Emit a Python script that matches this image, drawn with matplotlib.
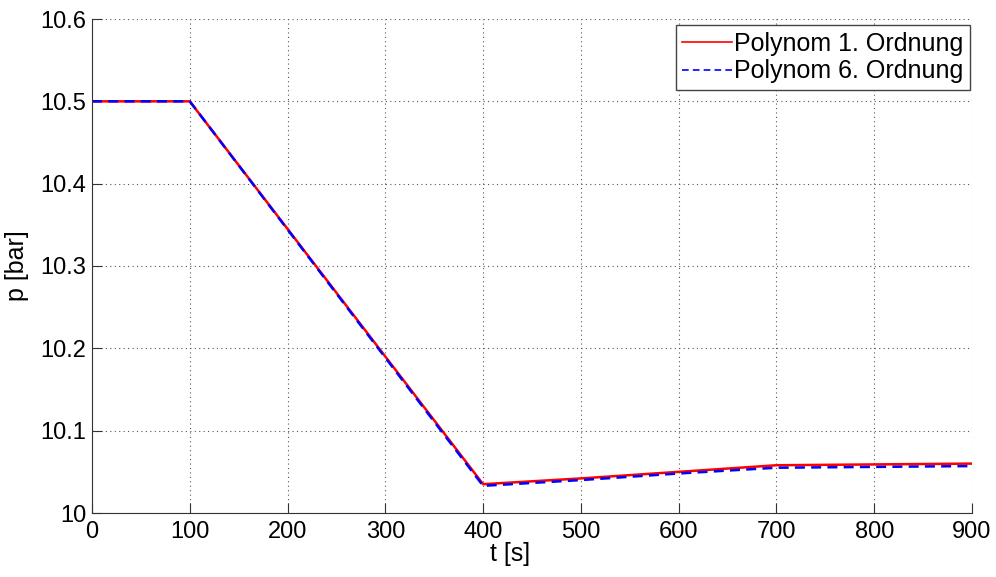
import numpy as np
import matplotlib.pyplot as plt

# Druckverlauf fuer beide Polynom-Ansaetze
t = [0, 100, 400, 500, 600, 700, 800, 900]
p_poly1 = [10.5, 10.5, 10.035, 10.042, 10.050, 10.058, 10.059, 10.060]
p_poly6 = [10.5, 10.5, 10.033, 10.040, 10.048, 10.055, 10.056, 10.057]

x_ticks = [0, 100, 200, 300, 400, 500, 600, 700, 800, 900]
y_ticks = [10, 10.1, 10.2, 10.3, 10.4, 10.5, 10.6]
y_ticklabels = ["10", "10.1", "10.2", "10.3", "10.4", "10.5", "10.6"]

plt.rcParams['font.family'] = ['Liberation Sans', 'DejaVu Sans']

fig = plt.figure(figsize=(9.96, 5.77), dpi=100)
ax = fig.add_axes([92 / 996, 1 - 513 / 577, 880 / 996, 494 / 577])

ax.plot(t, p_poly1, color='red', linewidth=1.8, label='Polynom 1. Ordnung')
ax.plot(t, p_poly6, color='blue', linewidth=1.8, linestyle=(0, (4, 2.5)),
        label='Polynom 6. Ordnung')

ax.set_xlim(0, 900)
ax.set_ylim(10, 10.6)
ax.set_xticks(x_ticks)
ax.set_yticks(y_ticks)
ax.set_yticklabels(y_ticklabels)

ax.grid(True, linestyle=(0, (1, 3)), color='#555555', linewidth=0.8)
ax.spines['top'].set_visible(False)
ax.spines['right'].set_visible(False)
ax.spines['left'].set_color('#333333')
ax.spines['bottom'].set_color('#333333')
ax.tick_params(direction='in', length=7, width=0.8, labelsize=17, colors='#333333',
               labelcolor='black')
ax.tick_params(axis='x', pad=6)
ax.tick_params(axis='y', pad=4)

ax.set_xlabel('t [s]', fontsize=18, labelpad=0)
ax.xaxis.set_label_coords(0.475, -0.058)
ax.set_ylabel('p [bar]', fontsize=18, labelpad=8)

leg = ax.legend(loc='upper right', bbox_to_anchor=(0.9977, 0.987), fontsize=18,
                frameon=True, fancybox=False, edgecolor='#444444', framealpha=1,
                handlelength=2.0, handletextpad=0.1, borderpad=0.25,
                labelspacing=0.15, borderaxespad=0)
leg.get_frame().set_linewidth(1.0)
for line in leg.get_lines():
    line.set_linewidth(1.2)

fig.savefig('out.png', dpi=100)
